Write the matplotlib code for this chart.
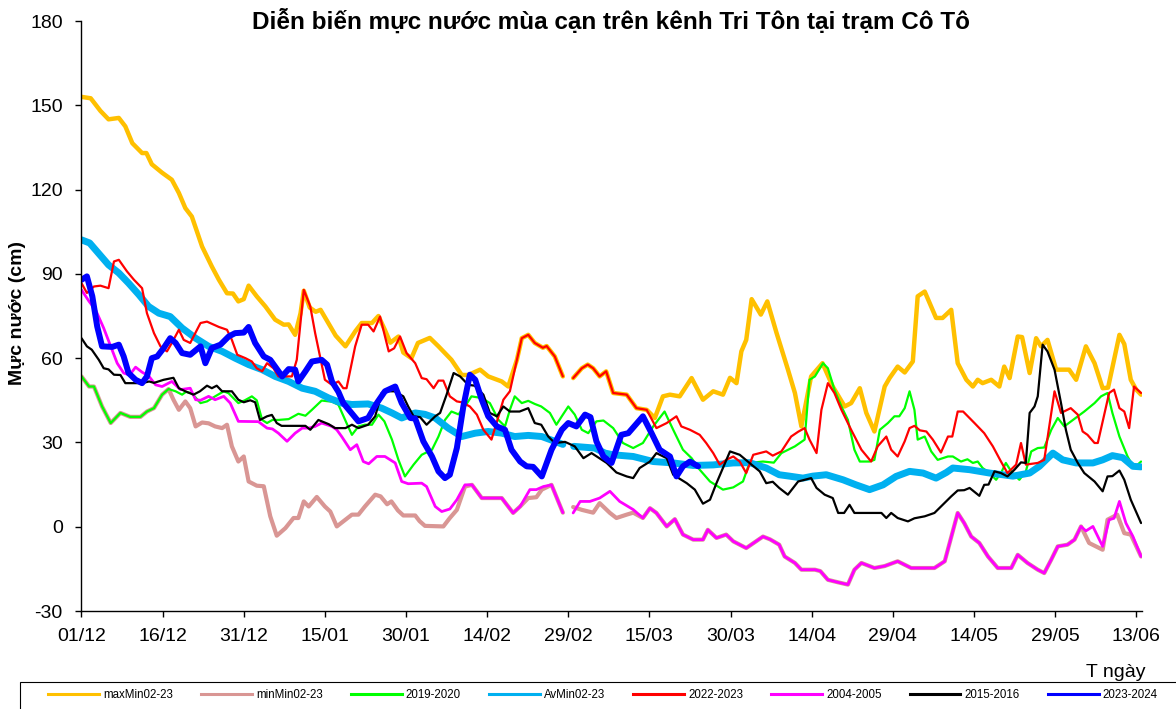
import numpy as np
import matplotlib
matplotlib.use("Agg")
import matplotlib.pyplot as plt
from matplotlib.lines import Line2D
from matplotlib.patches import Rectangle

plt.rcParams['font.family'] = ['Liberation Sans', 'DejaVu Sans']
plt.rcParams['axes.unicode_minus'] = False

nan = np.nan

# x = day index counted from 01/12
tick_days = [0, 15, 30, 45, 60, 75, 90, 105, 120, 135, 150, 165, 180, 195]
tick_labels = ["01/12", "16/12", "31/12", "15/01", "30/01", "14/02", "29/02",
               "15/03", "30/03", "14/04", "29/04", "14/05", "29/05", "13/06"]

max_day = [0, 1.7, 3.5, 5, 6.9, 8.1, 9.4, 11.2, 12, 13, 14.9, 16.7, 18, 19.2, 20.4, 22.3, 24.1, 25.4, 26.9, 28,
           29, 30, 30.9, 32.4, 34, 35.8, 37.4, 38.3, 39.5, 40.5, 41.1, 42.2, 43.3, 44.2, 45.6, 47, 48.8, 50.6, 51.8,
           53.7, 54.9, 56.1, 57.1, 58.6, 59.5, 61, 62.2, 64.4, 66, 68.4, 70.3, 71.5, 73.7, 75.2, 77.7, 78.9, 80.5,
           81.4, 82.6, 83.8, 85.3, 86, 87.5, 89, 90, 90.9, 92.5, 93.6, 94.6, 95.8, 97, 98.3, 100.8, 102.6, 104.5, 106,
           107.5, 108.8, 110.6, 112.8, 114.9, 116.8, 118.6, 119.9, 121.1, 122, 122.9, 123.9, 125.6, 126.8, 128.5,
           130.6, 131.9, 133.1, 134.9, 137, 138.9, 141.1, 142.3, 143.9, 145.1, 146.6, 148.5, 149.4, 150.9, 152.2,
           153.7, 154.6, 155.9, 158, 159.2, 160.8, 162, 163.6, 164.8, 165.7, 166.6, 168.2, 169.7, 170.6, 171.6,
           173.1, 173.9, 175.3, 176.5, 177.4, 178.6, 180.2, 182.6, 183.9, 185.7, 187.3, 188.8, 189.8, 191.9, 192.8,
           194, 195, 195.9]
max_val = [153, 152.5, 148, 145, 145.5, 142.5, 136.5, 133, 133, 129, 126, 123.5, 118.8, 113.4, 110.4, 99.7, 92.6,
           87.9, 83.1, 83, 80.2, 81, 85.8, 82, 78.4, 73.7, 71.9, 72, 68.3, 76, 84, 78, 76.5, 77.2, 72.6, 68, 64.2,
           69.5, 72.5, 72.5, 75, 70, 65.5, 67.7, 62, 60, 65.4, 67.2, 64.2, 59.4, 54, 54, 55.9, 53.5, 51.7, 49.9, 59.4,
           67.1, 68.3, 65.4, 63.7, 64.3, 60.6, 53.5, nan, 52.9, 56.4, 57.7, 56.4, 53.5, 55.3, 47.6, 47, 42.2, 41.6,
           38.7, 46.4, 47, 46.4, 52.9, 45.2, 48.2, 47, 53, 51.1, 62.4, 66.5, 81, 75.5, 80.2, 69, 56, 47.6, 35.7,
           53.5, 58.2, 49.9, 42.8, 44, 49.3, 40.5, 33.9, 49.9, 52.9, 57, 54.9, 58.8, 82, 83.7, 74.3, 74.3, 77.2,
           58.2, 52.3, 49.9, 52.3, 51.1, 52.3, 49.9, 57, 52.9, 67.7, 67.5, 54.7, 67.1, 64.2, 66.5, 55.9, 55.9, 52.3,
           64.2, 58.2, 49.3, 49.5, 68.3, 65, 52.3, 48.8, 47]

min_day = [0, 1.4, 2.3, 3.8, 5.4, 7.2, 9, 10.9, 12.1, 13.4, 14.9, 16.1, 17, 18, 19.2, 20.1, 21.1, 22.3, 23.5, 24.7,
           26, 26.9, 27.8, 29, 30, 30.9, 32.4, 33.7, 34.9, 36.1, 37.7, 39.2, 40.1, 41.1, 42, 43.5, 45, 46, 47.2,
           48.8, 50, 51.2, 52.4, 54.3, 55.3, 56.5, 57.3, 58.5, 59.5, 61.7, 62.5, 63.5, 66.9, 68.1, 69.4, 70.9, 72.2,
           74, 77.7, 79.8, 81.1, 82.6, 84.1, 85.1, 86.9, 89, 90, 90.9, 92.5, 94.6, 95.8, 97.7, 98.9, 100.8, 102,
           103.8, 105.1, 106.3, 108.2, 109.7, 111.2, 113.1, 114.9, 115.8, 117.4, 119.2, 120.5, 122.9, 126, 127.3,
           129, 130, 131.9, 133.1, 135.6, 136.6, 138, 139.9, 141.7, 142.9, 144.2, 146.6, 148.5, 150.9, 153.4, 157.7,
           159.6, 160.5, 162, 163.2, 164.5, 166, 167.6, 169.4, 171.9, 173.1, 174.9, 176.8, 178, 179.3, 180.5, 182.3,
           183.6, 184.8, 186.3, 188.8, 189.7, 191.5, 192.8, 194, 195.9]
min_val = [53.5, 49.9, 49.9, 42.8, 36.9, 40.5, 39.1, 39.1, 41, 42.2, 47, 49, 45.2, 41.6, 44.6, 42.2, 35.7, 37.1,
           36.8, 35.7, 35.1, 36.3, 28.6, 23.2, 25, 16.1, 14.6, 14.4, 3.7, -3.2, -0.5, 3.1, 3.1, 9, 7.2, 10.6, 7.2,
           5.4, 0.1, 2.5, 4.3, 4.3, 7.2, 11.4, 10.8, 8, 9, 5.8, 4, 4, 2, 0.3, 0.1, 3.1, 6, 14.3, 14.9, 10.2, 10.2,
           4.9, 7.2, 10.2, 10.5, 13.2, 14.9, 5, nan, 7, 6, 5, 8.4, 4.9, 3.1, 4.3, 5, 3.1, 6.6, 4.9, 0.1, 2.7, -2.8,
           -4.6, -4.6, -1.1, -4, -2.8, -5.2, -7.6, -3.5, -4.5, -6.4, -10.6, -12.9, -15.3, -15.3, -15.8, -18.9,
           -19.8, -20.6, -15.3, -12.9, -14.7, -14, -12.3, -14.7, -14.7, -12.3, -5.8, 4.9, 1.3, -3.5, -5.8, -10.6,
           -14.7, -14.7, -10, -12.9, -15.3, -16.5, -11.7, -7, -6.4, -4.6, 0.1, -5.8, -8.2, 2.5, 4.3, -2.3, -2.8,
           -10.6]

y1920_day = [0, 1.4, 2.3, 3.8, 5.4, 7.2, 9, 10.9, 12.1, 13.4, 14.9, 16.1, 17.4, 18.6, 19.3, 20.4, 22, 23.2, 24.7,
             26.3, 27.2, 29, 30.2, 31.5, 32.4, 33.4, 34.3, 35.3, 36.4, 38.3, 40.1, 41.4, 42.6, 44.4, 46.3, 47.5, 49,
             50, 51.2, 52.4, 53.7, 54.9, 56, 57.4, 58.6, 59.8, 61.4, 62.9, 64.8, 66, 67.2, 68.4, 69.7, 70.9, 72.1,
             74, 75.5, 77.1, 78.3, 79.2, 80.1, 81.4, 82.6, 83.8, 85, 86.6, 87.8, 88.8, 90, 91.2, 92.5, 93.7, 95.2,
             96.5, 98.3, 100.1, 102, 103.8, 105.7, 107.8, 109.4, 111.2, 112.8, 114.3, 116.2, 118.6, 120.5, 122.3,
             123.5, 126, 128, 129.4, 131.9, 133.7, 134.6, 135.6, 137.1, 138, 139.2, 140.5, 141.7, 142.9, 143.9,
             145.7, 146.6, 147.6, 149.1, 150.3, 151.2, 152.2, 153.1, 154, 154.6, 155.9, 157.1, 158.3, 160.2, 161.1,
             162.6, 163.8, 164.8, 165.7, 166.6, 167.9, 169.1, 170.1, 170.9, 172.1, 173.4, 174.6, 175.6, 176.8, 178,
             179.3, 180.5, 181.7, 184.2, 185.4, 187.3, 188.5, 189.7, 190.6, 191.9, 193.4, 194.6, 195.9]
y1920_val = [53.5, 49.9, 49.9, 42.8, 36.9, 40.5, 39.1, 39.1, 41, 42.2, 47, 49, 48.2, 47, 48, 47.5, 44, 44.6, 46.4,
             48.2, 47.5, 44, 45, 46.4, 45, 38, 36.9, 38, 38, 38.3, 40.2, 39.5, 41.6, 44.9, 44.5, 43.4, 36.9, 32.7,
             35.7, 36.3, 36.3, 39.9, 37.5, 31, 23.8, 17.9, 22.1, 25.6, 27.4, 32.1, 38, 41, 40, 42.8, 46.4, 45.8, 44,
             38, 35.7, 41.6, 46.4, 44, 44.8, 43.7, 42.8, 40.5, 36.3, 39.3, 42.8, 39.9, 34.5, 33.3, 37.5, 37.8, 35.1,
             29.8, 28, 29.8, 35.7, 41, 34.5, 27.4, 24.4, 20.3, 16.1, 13.2, 14, 16.1, 22.7, 23.2, 22.8, 26.2, 28.6,
             31, 52.3, 53.5, 58.2, 56.4, 48.8, 42.8, 38, 27.4, 23.2, 23.2, 23.8, 34.5, 36.9, 39.3, 39.3, 42.2, 48.2,
             41.6, 31, 32.1, 26.8, 23.8, 25, 25, 23.2, 24, 22.7, 23.2, 20.9, 19.1, 16.7, 19.5, 22.7, 19.1, 16.7,
             19.7, 26.8, 28, 28.2, 34.5, 38.7, 35.7, 39.3, 41, 44, 46.4, 47.6, 40.5, 32.1, 25, 20.9, 23.2]

avg_day = [0, 1.5, 5, 6.9, 8.7, 10.6, 12.4, 14.3, 16.4, 18.6, 21.1, 23.5, 26, 28.4, 30.9, 33.4, 35.8, 38.3, 40.8,
           43.2, 45.7, 48.1, 50, 53, 55.5, 57.4, 59.2, 61.7, 63.5, 65.4, 67.8, 70.3, 72.8, 75.2, 77.7, 80.1, 82.6,
           85.1, 87.5, 89, 90, 91, 94.9, 96.8, 98.3, 102, 105.7, 109.4, 113.1, 116.8, 120.5, 123.5, 126.6, 129,
           130.9, 133.4, 135.2, 137.7, 140.8, 143.2, 145.7, 148.2, 150.6, 153.1, 155.6, 158, 159.9, 161.1, 164.2,
           167.9, 170.3, 172.2, 175.3, 177.1, 179.6, 181.4, 183.9, 187, 188.8, 190.6, 192.5, 194.4, 195.9]
avg_val = [102.1, 101, 93.2, 90.3, 86.7, 82.6, 78.4, 76, 74.8, 70.7, 67.1, 64.2, 62.4, 60, 57.7, 55.9, 53.5, 51.7,
           49.3, 48.2, 45.8, 44, 43.5, 43.7, 42.2, 40.5, 38.7, 40.5, 40, 38.7, 35.1, 32.1, 33.3, 33.9, 33.3, 32.1,
           32.5, 32.1, 30.4, 29.3, nan, 28.6, 28, 26.2, 25.6, 25, 23.2, 22.7, 21.8, 22, 22.7, 22.8, 20.9, 18.5, 18,
           17.3, 18, 18.5, 16.7, 14.9, 13.2, 14.9, 17.9, 19.7, 19.1, 17.3, 19.3, 20.9, 20.3, 19.1, 18.5, 18, 19.1,
           21.5, 26.2, 23.8, 22.7, 22.7, 23.8, 25.3, 24.6, 21.5, 21.3]

y2223_day = [0, 1, 2.3, 3.5, 5, 6, 6.9, 8.4, 9.7, 11.2, 12.1, 13.4, 14.6, 15.8, 16.7, 18, 18.9, 20.1, 22, 23.2,
             25.4, 26.9, 27.8, 28.8, 30.3, 31.5, 32.4, 33.4, 34.3, 35.5, 36.4, 38.9, 39.8, 41.1, 42.3, 43.2, 44.1,
             45, 46.3, 47.5, 48.4, 49, 50.6, 51.8, 53, 54, 55.2, 56.8, 57.8, 58.9, 60.1, 61.7, 62.9, 63.8, 65.1, 66,
             66.9, 68.1, 69.4, 70.3, 71.8, 73.1, 74.3, 75.8, 77.1, 78, 79.2, 80.5, 81.4, 82.6, 83.8, 85.3, 86, 87.5,
             89, 90, 90.9, 92.5, 93.6, 94.6, 95.8, 97, 98.3, 100.8, 102.6, 104.5, 106.3, 108.2, 110, 110.9, 112.5,
             114.3, 115.5, 116.8, 118, 119.2, 120.5, 121.7, 122.9, 124.2, 126.6, 127.8, 129.4, 131.2, 132.5, 133.7,
             134.6, 135.9, 136.8, 138, 139.2, 140.5, 142.3, 144.2, 146, 147.2, 148.8, 149.7, 150.9, 152.2, 153.1,
             154, 155, 156.2, 157.4, 158.9, 160.2, 161, 162, 163, 165.1, 166.9, 168.5, 170, 171.2, 172.8, 173.7,
             174.6, 176.8, 178, 179.9, 181.1, 182.9, 184.2, 185.1, 186, 187.3, 187.9, 190, 190.9, 191.9, 192.8,
             193.7, 194.6, 195.9]
y2223_val = [86.7, 83.2, 85.5, 85.8, 84.9, 94.4, 95, 90.9, 87.9, 84.9, 76, 68.9, 64.2, 62.4, 65.4, 70.1, 66.5,
             65.4, 72.5, 73, 71.1, 70.1, 66.5, 61.2, 60, 58.8, 56.4, 55.3, 58.2, 56.4, 53.5, 53.5, 59.4, 84.3, 78.4,
             68.9, 60.6, 52.3, 50.5, 51.7, 49.3, 49.3, 64.2, 71.9, 71.9, 69.5, 74.8, 62.4, 63.5, 67.7, 61.8, 58.2,
             52.9, 52.5, 49.3, 52, 52, 46.4, 44.6, 44.3, 42.8, 39.9, 34.5, 31, 39.3, 45.2, 48.2, 59.4, 67.1, 68.3,
             65.4, 63.7, 64.3, 60.6, 53.5, nan, 52.9, 56.4, 57.7, 56.4, 53.5, 55.3, 47.6, 47, 42.2, 41.6, 35.1, 36.9,
             39.3, 35.7, 34.5, 32.7, 29.8, 26.2, 22.1, 23.8, 25, 23.2, 19.1, 25.6, 26.8, 25.3, 26.8, 32.1, 33.8,
             35.1, 31, 26.2, 41.6, 51.1, 47.6, 41.6, 34.5, 27.4, 23.2, 28.6, 32.1, 27.4, 25, 30.4, 35.1, 35.9, 34.3,
             33.9, 31, 26.4, 32.1, 32.1, 41, 41, 36.9, 33.3, 28.6, 23.2, 19.1, 22.1, 29.8, 22.1, 22.7, 23.8, 48.2,
             40.5, 42.2, 39.9, 33.9, 32.7, 29.8, 29.8, 47.6, 48.8, 42.2, 41, 35.1, 49.9, 47.6]

y0405_day = [0, 1.4, 2.6, 4.1, 5.4, 6.6, 7.8, 8.9, 10, 11.2, 12.4, 13.7, 14.9, 16.7, 18.3, 20.1, 21.1, 22, 23.5,
             24.7, 26.3, 27.5, 29, 32.7, 34.3, 35.3, 36.4, 38, 39.5, 40.8, 42, 43.2, 44.4, 46.3, 47.2, 48.1, 49.7,
             50.9, 52.1, 53.1, 54.6, 56.1, 58, 59.2, 60.4, 62.9, 63.8, 65.4, 66.6, 68.1, 69.4, 70.9, 72.2, 74, 77.7,
             79.8, 81.1, 82.9, 84.1, 85.4, 86.9, 89, 90, 90.9, 92.2, 94, 95.8, 97.7, 99.5, 102, 103.8, 105.1, 106.3,
             108.2, 109.7, 111.2, 113.1, 114.9, 115.8, 117.4, 119.2, 120.5, 122.9, 126, 127.3, 129, 130, 131.9,
             133.1, 135.6, 136.6, 138, 139.9, 141.7, 142.9, 144.2, 146.6, 148.5, 150.9, 153.4, 157.7, 159.6, 160.5,
             162, 163.2, 164.5, 166, 167.6, 169.4, 171.9, 173.1, 174.9, 176.8, 178, 179.3, 180.5, 182.3, 183.6,
             184.8, 185.7, 187, 188.8, 190, 190.9, 191.9, 193.1, 194.4, 195.9]
y0405_val = [84.3, 80.2, 77.2, 70.7, 64.2, 58.2, 54.7, 54, 56.8, 55, 53.7, 50.5, 49.9, 51.7, 48.8, 49.3, 45.2, 45,
             46.4, 45.2, 46.4, 44, 37.5, 37.4, 35.1, 34.8, 33.3, 30.4, 33.3, 35.1, 35.1, 35.7, 36.9, 35.7, 34.5,
             32.1, 27.4, 29.2, 23.2, 22.4, 25, 25, 22.7, 16.1, 15.3, 15.5, 14.3, 7.2, 5.4, 6.3, 9.6, 14.9, 14.9, 10.2,
             10.2, 4.9, 7.2, 13.2, 13.2, 14.3, 14.9, 5, nan, 4.9, 9, 9, 10.2, 12.6, 9, 6.1, 3.1, 6.6, 4.9, 0.1, 2.7,
             -2.8, -4.6, -4.6, -1.1, -4, -2.8, -5.2, -7.6, -3.5, -4.5, -6.4, -10.6, -12.9, -15.3, -15.3, -15.8,
             -18.9, -19.8, -20.6, -15.3, -12.9, -14.7, -14, -12.3, -14.7, -14.7, -12.3, -5.8, 4.9, 1.3, -3.5, -5.8,
             -10.6, -14.7, -14.7, -10, -12.9, -15.3, -16.5, -11.7, -7, -6.4, -4.6, 0.1, -1.5, 0.1, -7, 2.5, 3, 9,
             1.3, -3.5, -10.6]

y1516_day = [0, 1, 1.9, 3.2, 4.1, 5, 6, 7.2, 8.1, 11.2, 12.5, 13.4, 15.2, 17, 18, 19.2, 20.7, 21.9, 23.2, 24.1,
             25, 26, 27.8, 29, 30, 31.2, 32.1, 33, 34.3, 35.2, 36.1, 37, 41.4, 42.3, 43.8, 45.7, 46.9, 48.8, 50, 51.2,
             53, 54.3, 55.5, 56.8, 57.9, 59.5, 60.4, 61.4, 62.6, 63.8, 65.4, 66.3, 67.5, 68.8, 70, 71.5, 72.7, 74.3,
             75.5, 76.8, 78, 79.2, 81, 82.6, 83.8, 85, 86.3, 87.5, 89.4, 91.2, 92.8, 94.3, 96.2, 97.1, 98.9, 100.8,
             102, 103.2, 105.1, 106.3, 108.2, 109.4, 111.9, 113.4, 114.9, 116.2, 117.4, 119.9, 121.7, 123.5, 125.4,
             126.6, 127.8, 129, 130.6, 132.5, 134.9, 135.9, 137.4, 138.9, 139.9, 141, 142, 142.9, 147.9, 148.8,
             149.7, 150.9, 152.8, 154, 155.9, 157.7, 158.9, 160.8, 162, 163.2, 164.2, 166, 166.9, 167.7, 168.8, 170,
             171.2, 172.5, 173.7, 174.6, 175.3, 176.2, 176.8, 177.7, 178.6, 179.9, 181.1, 182, 182.9, 184.2, 185.4,
             187.3, 188.8, 189.7, 190.6, 191.9, 192.8, 194, 195.9]
y1516_val = [67.1, 64.2, 63, 59.4, 56.4, 56, 54.1, 54, 51.1, 51.1, 51.7, 51.2, 52.3, 53, 49.3, 48.2, 47, 48.2,
             50.2, 49.3, 50.2, 48.2, 48.2, 45.2, 44.3, 45, 44.3, 38, 39.3, 39.8, 36.9, 35.9, 35.9, 34.5, 38, 36.5,
             35.1, 35.1, 36.3, 35.1, 36.3, 39.3, 47.6, 48.2, 48.2, 46.4, 42.8, 39.3, 39, 36.3, 39.3, 40.5, 47, 54.7,
             53.5, 50.5, 50.2, 47, 40.5, 39.3, 42.8, 41, 41, 42.2, 36.9, 36.3, 32.1, 29.8, 30.2, 28.6, 24.4, 26.2,
             23.8, 22.7, 19.3, 17.9, 17.3, 20.9, 23.2, 26.2, 24.4, 18.5, 15.5, 13.2, 8.2, 9.6, 15.5, 26.8, 25.6,
             22.7, 19.7, 15.5, 16, 13.8, 11.4, 16.1, 17.3, 13.8, 11.4, 10.2, 4.9, 4.9, 7.8, 4.9, 4.9, 3.1, 4.9, 3.1,
             1.9, 3, 3.7, 4.9, 7.2, 10.8, 12.9, 13, 13.8, 11, 14.9, 15, 19.7, 19.1, 17.9, 20.3, 22.9, 22.7, 40.5,
             42.8, 46.4, 64.8, 62.4, 55.9, 44, 34.5, 27.4, 22.7, 19.1, 16.1, 12.6, 17.9, 18, 20, 16.7, 9.6, 1.3]

y2324_day = [0, 1, 2, 2.9, 3.8, 5.7, 6.9, 7.8, 8.7, 10, 11.2, 12.1, 13, 14, 15.2, 16.4, 17.4, 18.6, 20.1, 22, 22.9,
             24.1, 25.7, 27.2, 28.4, 30, 30.9, 32.1, 33.7, 34.9, 35.8, 37.1, 38.3, 39.5, 40.1, 41.4, 42.6, 44.4,
             45.4, 46.3, 47.5, 48.4, 49.7, 51.2, 53, 54.6, 56.1, 58, 59.2, 60.8, 61.7, 63.2, 64.8, 66, 67.2, 68.1,
             69.4, 70.6, 71.8, 72.8, 74, 75.2, 76.8, 78.3, 79.5, 81.1, 82.3, 83.5, 85.1, 86.9, 88.8, 90, 91.5, 93.1,
             94.1, 95.2, 96.5, 98, 99.8, 101.1, 103.8, 105.4, 106.9, 108.8, 110, 111.2, 112.5, 114]
y2324_val = [87.9, 89.1, 82, 71.3, 64.2, 64, 64.8, 60.6, 54.7, 52.3, 51.1, 53.5, 60, 60.6, 63.6, 67.1, 65.4, 61.8,
             61.2, 64.2, 58.2, 63.6, 64.8, 67.7, 68.9, 69.1, 71.1, 65.4, 60.6, 59.4, 57, 53.5, 56.1, 55.9, 51.7,
             55.3, 58.8, 59.4, 57.7, 51.7, 48, 44, 41, 37.5, 38.7, 44, 48.2, 49.9, 44, 38.7, 38.5, 30.4, 25, 19.7,
             17.3, 18.5, 28, 42.8, 54.1, 52.3, 45.2, 39.3, 35.7, 34.5, 27.4, 23.2, 21.5, 21.3, 17.9, 27.4, 34.5,
             36.9, 35.7, 39.9, 39, 30.4, 25, 22.7, 32.7, 33.3, 39.3, 33.3, 27.4, 25, 17.9, 21.5, 23.2, 21.5]

series = [
    ("maxMin02-23", max_day, max_val, "#FFC000", 3.2),
    ("minMin02-23", min_day, min_val, "#D99694", 3.0),
    ("2019-2020", y1920_day, y1920_val, "#00FF00", 1.6),
    ("AvMin02-23", avg_day, avg_val, "#00B0F0", 5.0),
    ("2022-2023", y2223_day, y2223_val, "#FF0000", 1.6),
    ("2004-2005", y0405_day, y0405_val, "#FF00FF", 2.0),
    ("2015-2016", y1516_day, y1516_val, "#000000", 1.6),
    ("2023-2024", y2324_day, y2324_val, "#0000FF", 4.3),
]

W, H = 1176, 709
fig = plt.figure(figsize=(W / 100, H / 100), dpi=100)
ax = fig.add_axes([81.5 / W, (H - 611) / H, (1141.6 - 81.5) / W, 590 / H])

for name, d, v, c, lw in series:
    ax.plot(d, v, color=c, lw=lw, solid_joinstyle="round", solid_capstyle="round")

ax.set_xlim(0, 196)
ax.set_ylim(-30, 180)
ax.set_yticks(np.arange(-30, 181, 30))
ax.set_xticks(tick_days)
ax.set_xticklabels(tick_labels)
for s in ["top", "right"]:
    ax.spines[s].set_visible(False)
for s in ["left", "bottom"]:
    ax.spines[s].set_linewidth(1.0)
    ax.spines[s].set_color("#000000")
ax.tick_params(axis="y", direction="out", length=4.5, width=1, labelsize=14, pad=9)
ax.tick_params(axis="x", direction="out", length=4.5, width=1, labelsize=14, pad=8)

fig.text(611 / W, (H - 28.3) / H, "Diễn biến mực nước mùa cạn trên kênh Tri Tôn tại trạm Cô Tô",
         ha="center", va="baseline", fontsize=17.5, fontweight="bold")
fig.text(18 / W, (H - 313) / H, "Mực nước (cm)", rotation=90, ha="center", va="center",
         fontsize=14, fontweight="bold")
fig.text(1146 / W, (H - 677) / H, "T ngày", ha="right", va="baseline", fontsize=14)

# legend box
fig.patches.append(Rectangle((20 / W, -5 / H), 1.0, (709 - 682 + 5) / H,
                             transform=fig.transFigure, fill=False, edgecolor="black", lw=0.8))
handles = [Line2D([], [], color=c, lw=2.2) for _, _, _, c, _ in series]
labels = [n for n, _, _, _, _ in series]
fig.legend(handles, labels, loc="center left", bbox_to_anchor=(48 / W, (H - 695) / H), ncol=8,
           frameon=False, fontsize=8.3, handlelength=4.42, handletextpad=0.35, columnspacing=2.43,
           borderpad=0, borderaxespad=0)

fig.savefig("out.png", dpi=100)
